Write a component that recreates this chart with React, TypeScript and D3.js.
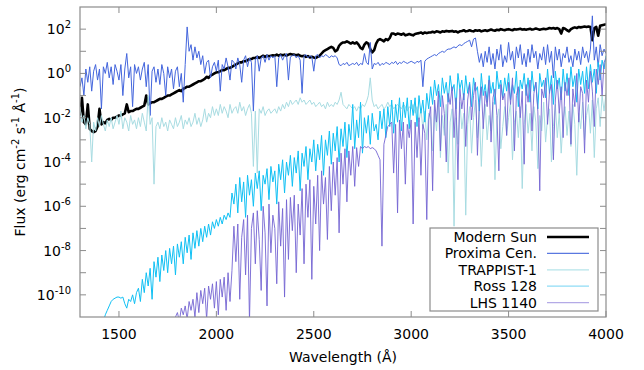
import React from "react";
import * as d3 from "d3";

// Wavelength grid (Å) shared by all spectra
const WAVE_START = 1300;
const WAVE_STEP = 10;
const X_DOMAIN = [1300, 4000];
const Y_DOMAIN = [1e-11, 1e3];
const X_TICKS = [1500, 2000, 2500, 3000, 3500, 4000];
const Y_MAJOR_EXP = [2, 0, -2, -4, -6, -8, -10];
const Y_MINOR_EXP = [1, -1, -3, -5, -7, -9];
const SERIES_NAMES = ["Modern Sun", "Proxima Cen.", "TRAPPIST-1", "Ross 128", "LHS 1140"];

// log10 flux values, one row per 100 Å
const SUN_LOG = [
  [-1.9, -1.1, -2.2, -2.3, -1.4, -2.5, -2.6, -2.65, -2.6, -2.4],
  [-1.6, -2.3, -2.2, -2.25, -2.1, -2.05, -2.1, -2.0, -2.0, -1.95],
  [-1.9, -1.9, -1.85, -1.8, -1.4, -1.75, -1.7, -1.7, -1.65, -1.6],
  [-1.6, -1.55, -1.5, -1.45, -1.0, -1.4, -1.35, -1.3, -1.3, -1.25],
  [-1.2, -1.15, -1.15, -1.1, -1.05, -1.0, -1.0, -0.95, -0.9, -0.85],
  [-0.8, -0.75, -0.8, -0.7, -0.65, -0.6, -0.6, -0.55, -0.5, -0.45],
  [-0.4, -0.35, -0.35, -0.3, -0.25, -0.15, -0.2, -0.1, -0.05, 0.0],
  [0.05, 0.05, 0.1, 0.15, 0.15, 0.2, 0.25, 0.25, 0.3, 0.35],
  [0.4, 0.45, 0.5, 0.5, 0.55, 0.55, 0.6, 0.65, 0.65, 0.7],
  [0.7, 0.75, 0.7, 0.75, 0.8, 0.75, 0.8, 0.78, 0.8, 0.82],
  [0.8, 0.85, 0.8, 0.85, 0.82, 0.85, 0.8, 0.85, 0.88, 0.85],
  [0.85, 0.82, 0.85, 0.8, 0.78, 0.8, 0.75, 0.78, 0.72, 0.75],
  [0.72, 0.7, 0.75, 0.8, 0.9, 1.0, 1.05, 1.1, 1.15, 1.2],
  [1.15, 1.0, 1.05, 1.25, 1.35, 1.4, 1.4, 1.45, 1.4, 1.35],
  [1.4, 1.35, 1.4, 1.3, 1.15, 1.1, 1.3, 1.4, 1.35, 1.1],
  [0.95, 1.05, 1.35, 1.5, 1.55, 1.5, 1.45, 1.55, 1.5, 1.6],
  [1.8, 1.8, 1.75, 1.8, 1.78, 1.75, 1.8, 1.72, 1.75, 1.78],
  [1.75, 1.72, 1.78, 1.8, 1.82, 1.85, 1.8, 1.85, 1.82, 1.85],
  [1.85, 1.88, 1.85, 1.9, 1.88, 1.85, 1.9, 1.88, 1.92, 1.9],
  [1.9, 1.92, 1.88, 1.9, 1.85, 1.9, 1.92, 1.95, 1.9, 1.92],
  [1.95, 1.92, 1.9, 1.95, 1.93, 1.95, 1.9, 1.93, 1.95, 1.92],
  [1.95, 1.98, 1.95, 1.93, 1.97, 1.95, 2.0, 1.97, 1.95, 1.98],
  [2.0, 1.97, 1.95, 2.0, 1.98, 2.0, 2.02, 1.98, 2.0, 1.97],
  [2.0, 2.02, 1.98, 2.0, 2.03, 2.0, 1.97, 2.0, 2.02, 2.0],
  [2.02, 2.05, 2.03, 2.05, 2.02, 2.05, 2.0, 1.8, 2.05, 2.02],
  [1.95, 1.9, 2.0, 2.05, 2.08, 2.05, 2.1, 2.08, 2.1, 2.12],
  [2.1, 2.12, 2.1, 1.5, 2.05, 2.1, 1.7, 2.15, 2.18, 2.2],
  [2.22],
].flat();

const PROXIMA_LOG = [
  [-0.6, -0.2, -1.0, 0.2, -0.4, 0.3, -0.8, 0.1, 0.4, -0.3],
  [0.2, -1.6, 0.3, 0.0, 0.5, -0.2, 0.3, -0.5, 0.4, 0.1],
  [-0.3, 0.4, -1.0, 0.2, 0.9, -0.2, 0.3, -1.5, 0.4, 0.0],
  [0.3, -0.3, 0.2, 0.5, -0.6, 0.4, -1.9, 0.1, 0.3, -0.4],
  [0.2, -0.5, 0.4, 0.0, -1.0, 0.3, -0.2, 0.2, -0.7, 0.1],
  [0.3, -0.6, 0.0, -1.3, 0.4, 2.1, 1.0, 1.3, 0.6, 1.2],
  [0.7, 1.0, 0.4, 0.8, 0.0, 0.5, 0.6, -0.2, 0.3, 0.5],
  [0.1, 0.6, -0.8, 0.4, 0.2, 0.7, 0.3, -0.3, 0.6, 0.5],
  [0.2, 0.7, 0.4, -0.4, 0.6, 0.8, 0.3, 0.7, 0.5, -1.7],
  [0.6, 0.8, 0.1, 0.7, 0.8, 0.5, 0.85, 0.6, 0.8, 0.7],
  [0.8, -0.6, 0.7, 0.85, 0.6, 0.8, 0.9, -0.3, 0.75, 0.8],
  [0.85, 0.7, 0.8, 0.6, -0.9, 0.8, 0.85, 0.7, 0.8, 0.75],
  [0.1, 0.8, 0.85, 0.7, 0.8, 0.75, 0.85, 0.8, 0.7, 0.8],
  [0.75, 0.8, 0.7, 0.4, 0.35, 0.45, 0.4, 0.5, 0.35, 0.4],
  [0.45, 0.4, 0.5, 0.35, 0.45, 0.4, 0.9, 0.5, 0.4, 1.4],
  [0.2, 0.45, 0.4, 0.5, 0.35, 0.45, 0.4, 0.5, 0.45, 0.4],
  [0.5, 0.45, 0.55, 0.4, 0.5, 0.45, 0.55, 0.5, 0.45, 0.5],
  [0.55, 0.5, 0.45, 0.55, 0.5, 0.6, -0.6, 0.55, 0.65, 0.7],
  [0.75, 0.8, 0.85, 0.8, 0.9, 0.95, 1.0, 0.95, 1.05, 1.1],
  [1.1, 1.15, 1.2, 1.15, 1.25, 1.3, 1.25, 1.35, 1.4, 1.45],
  [1.5, 1.2, 1.55, 1.6, 1.0, 0.5, 0.9, 0.3, 1.0, 0.5],
  [1.2, 0.4, 0.9, 0.2, 1.1, 0.6, 1.3, 0.3, 0.8, 0.5],
  [1.4, 0.6, 1.0, 0.2, 1.2, 0.7, 1.3, 0.4, 0.9, 0.3],
  [1.1, 0.5, 1.3, 0.7, 1.0, 0.2, 0.9, 0.6, 1.2, 0.4],
  [1.3, 0.5, 1.0, -0.2, 1.2, 0.6, 1.1, 0.3, 0.9, 0.7],
  [1.2, 0.5, 0.8, 0.3, 1.1, 0.6, 1.0, 0.4, 1.2, 0.7],
  [1.0, 0.5, 1.1, 2.6, 0.6, 1.2, 0.3, 1.3, 0.8, 1.1],
  [0.9],
].flat();

const TRAPPIST_LOG = [
  [-1.5, -2.2, -1.9, -2.5, -2.0, -2.3, -4.0, -2.2, -2.6, -2.0],
  [-2.4, -1.9, -2.3, -2.6, -2.1, -2.4, -2.0, -2.5, -2.2, -1.9],
  [-2.3, -1.7, -2.5, -2.0, -2.2, -2.6, -1.9, -2.3, -2.1, -2.5],
  [-2.0, -2.4, -1.8, -2.2, -2.6, -1.0, -2.3, -2.0, -5.0, -2.4],
  [-2.2, -2.5, -2.0, -2.4, -2.2, -2.6, -2.1, -2.3, -2.5, -2.0],
  [-2.4, -2.2, -1.9, -2.5, -2.1, -2.3, -2.0, -2.4, -2.2, -1.8],
  [-2.3, -2.0, -2.4, -2.1, -1.6, -2.2, -1.8, -2.0, -1.5, -1.9],
  [-1.6, -1.9, -1.4, -1.8, -1.5, -1.7, -2.0, -1.4, -1.8, -1.6],
  [-1.5, -1.8, -1.3, -1.7, -1.5, -1.9, -1.6, -1.4, -1.8, -4.2],
  [-1.7, -4.5, -1.6, -1.8, -1.5, -1.9, -1.7, -1.6, -1.8, -1.7],
  [-1.6, -1.8, -1.5, -1.7, -1.4, -1.6, -1.3, -1.5, -1.2, -1.4],
  [-1.3, -1.2, -1.4, -1.1, -1.3, -1.2, -1.4, -1.3, -1.2, -1.4],
  [-1.3, -1.5, -1.4, -1.3, -1.5, -1.4, -1.6, -1.3, -1.5, -1.4],
  [-1.5, -1.3, -1.4, -1.2, -0.85, -1.4, -1.5, -1.6, -1.4, -1.5],
  [-1.6, -1.5, -1.7, -1.5, -1.6, -1.4, -1.5, -1.3, -1.0, -0.2],
  [-1.2, -1.5, -1.4, -1.6, -1.5, -1.4, -1.6, -1.5, -1.3, -1.5],
  [-1.4, -1.6, -1.5, -1.4, -1.5, -1.6, -1.4, -1.5, -1.7, -1.5],
  [-1.6, -1.4, -1.8, -1.5, -2.2, -1.6, -2.5, -1.7, -3.0, -1.8],
  [-2.0, -3.5, -1.5, -2.6, -1.2, -3.8, -1.9, -2.8, -1.4, -4.5],
  [-2.2, -1.6, -6.9, -2.0, -3.2, -1.3, -2.5, -1.8, -6.4, -2.3],
  [-1.5, -3.6, -2.0, -1.2, -2.9, -1.7, -4.2, -2.2, -1.4, -3.0],
  [-1.9, -2.6, -1.3, -4.8, -2.1, -1.6, -3.4, -2.4, -1.5, -2.8],
  [-2.0, -1.3, -3.9, -2.2, -1.7, -2.9, -1.5, -5.2, -2.3, -1.4],
  [-2.7, -1.8, -3.5, -1.5, -2.2, -4.3, -1.9, -2.6, -1.3, -3.1],
  [-2.0, -1.6, -4.0, -2.4, -1.4, -2.9, -1.8, -3.6, -2.1, -1.5],
  [-2.8, -1.7, -3.3, -1.4, -2.3, -4.6, -1.8, -2.5, -1.3, -3.0],
  [-1.9, -1.4, -2.7, -1.2, -3.8, -1.6, -1.1, -2.4, -1.0, -1.7],
  [-0.9],
].flat();

const ROSS_LOG = [
  [null, null, null, null, null, null, null, null, null, null],
  [null, null, -11.2, -10.9, -10.7, -10.5, -10.3, -10.2, -10.15, -10.1],
  [-10.1, -10.15, -10.1, -10.4, -10.6, -10.2, -10.3, -10.0, -10.4, -9.9],
  [-9.7, -10.3, -9.3, -9.9, -9.0, -9.6, -8.8, -10.2, -8.5, -9.2],
  [-8.3, -9.4, -8.2, -8.9, -8.0, -9.0, -7.9, -8.6, -7.8, -9.1],
  [-7.7, -8.3, -7.6, -8.6, -7.4, -8.1, -7.3, -8.4, -7.2, -7.9],
  [-7.1, -7.8, -7.0, -7.6, -6.9, -7.4, -6.8, -7.3, -6.7, -7.0],
  [-6.6, -6.9, -6.5, -6.8, -6.4, -6.6, -6.3, -6.5, -5.4, -5.9],
  [-5.0, -6.3, -4.7, -5.8, -4.9, -6.5, -4.6, -5.5, -4.8, -6.0],
  [-4.5, -5.2, -4.4, -6.2, -4.6, -5.0, -4.3, -5.7, -4.2, -4.9],
  [-4.4, -5.9, -4.1, -4.8, -3.9, -5.4, -4.0, -4.6, -3.7, -5.1],
  [-3.8, -4.5, -3.5, -5.3, -3.6, -4.2, -3.3, -4.8, -3.4, -4.0],
  [-3.0, -4.4, -3.2, -3.9, -2.8, -4.6, -3.0, -3.7, -2.6, -4.1],
  [-2.7, -3.5, -2.4, -4.0, -2.5, -3.3, -2.2, -3.8, -2.3, -3.0],
  [-1.4, -3.4, -2.1, -2.9, -1.3, -3.6, -2.0, -2.7, -1.9, -3.2],
  [-1.8, -2.6, -2.3, -3.0, -1.7, -2.5, -1.6, -2.9, -1.5, -2.4],
  [-1.2, -2.7, -1.4, -2.2, -1.1, -2.6, -1.3, -2.0, -1.1, -2.5],
  [-1.2, -1.9, -1.1, -2.4, -1.0, -1.8, -1.2, -2.2, -0.9, -1.6],
  [-0.6, -1.4, -0.3, -1.0, -0.5, -1.5, -0.2, -0.9, -0.4, -1.3],
  [-0.1, -0.8, -0.5, -1.6, 0.0, -0.7, -0.3, -1.2, -0.1, -0.9],
  [-0.4, -1.5, -0.2, -0.8, -0.6, -1.7, 0.0, -1.0, -0.5, -1.3],
  [-0.1, -0.9, -0.4, -1.4, 0.1, -0.7, -0.3, -1.1, -0.2, -0.8],
  [0.0, -1.2, -0.5, -0.9, 0.1, -1.5, -0.3, -0.7, 0.0, -1.0],
  [-0.2, -1.3, 0.1, -0.8, -0.4, -1.6, 0.0, -0.6, -0.3, -1.1],
  [0.2, -0.9, -0.1, -1.4, 0.1, -0.7, -0.2, -1.2, 0.2, -0.8],
  [0.0, -1.0, 0.3, -0.6, -0.1, -1.3, 0.2, -0.5, 0.1, -0.9],
  [0.3, -0.7, 0.4, -0.4, 0.2, -0.9, 0.5, -0.3, 0.6, 0.2],
  [0.8],
].flat();

const LHS_LOG = [
  [null, null, null, null, null, null, null, null, null, null],
  [null, null, null, null, null, null, null, null, null, null],
  [null, null, null, null, null, null, null, null, null, null],
  [null, null, null, null, null, null, null, null, null, null],
  [null, null, null, null, null, null, null, null, -11.2, -11.0],
  [-10.8, -11.2, -10.6, -10.9, -10.5, -11.1, -10.3, -10.7, -10.2, -11.0],
  [-9.9, -10.8, -9.8, -10.4, -9.7, -11.1, -9.6, -10.2, -9.5, -10.6],
  [-9.4, -10.9, -9.3, -10.1, -9.2, -10.7, -9.0, -10.3, -8.9, -6.9],
  [-8.5, -6.8, -10.2, -7.4, -6.6, -9.1, -6.4, -11.2, -7.0, -6.3],
  [-8.6, -6.2, -7.5, -9.8, -6.0, -7.2, -10.5, -5.9, -8.1, -6.4],
  [-7.0, -9.5, -5.8, -7.8, -6.1, -10.1, -5.7, -8.4, -5.6, -7.1],
  [-5.5, -9.0, -5.9, -7.3, -5.2, -8.6, -5.0, -6.5, -4.8, -9.3],
  [-5.1, -6.8, -4.6, -8.0, -4.4, -5.9, -4.7, -7.5, -4.2, -6.2],
  [-4.0, -5.5, -3.8, -7.2, -3.6, -5.0, -3.4, -5.8, -3.5, -4.6],
  [-3.3, -5.1, -3.35, -4.2, -3.3, -3.4, -3.3, -3.35, -3.3, -3.4],
  [-3.35, -3.4, -3.5, -3.7, -3.9, -7.8, -3.2, -2.8, -2.4, -2.3],
  [-2.2, -4.5, -2.3, -6.3, -2.1, -3.4, -2.2, -5.0, -2.3, -2.9],
  [-2.1, -6.8, -2.2, -3.8, -2.0, -4.6, -2.3, -2.7, -6.6, -2.1],
  [-1.5, -5.3, -1.2, -2.2, -0.8, -3.5, -1.0, -1.8, -4.0, -0.9],
  [-1.4, -0.6, -2.9, -1.1, -4.8, -0.7, -1.6, -0.9, -3.3, -1.2],
  [-0.5, -2.1, -1.0, -0.4, -3.7, -1.3, -0.6, -2.5, -0.8, -1.5],
  [-0.3, -3.1, -1.1, -0.7, -1.9, -4.4, -0.5, -1.2, -0.9, -2.8],
  [-0.4, -1.4, -0.2, -3.5, -1.0, -0.6, -2.0, -0.8, -4.1, -0.5],
  [-1.3, -0.3, -2.6, -0.9, -0.4, -1.7, -5.3, -0.7, -1.1, -0.2],
  [-2.3, -0.8, -0.5, -3.9, -1.2, -0.3, -1.8, -0.6, -2.9, -0.4],
  [-1.0, -0.2, -3.2, -0.7, -1.5, 0.0, -2.2, -0.6, -0.9, -3.6],
  [-0.3, -1.3, 0.1, -0.8, -2.4, 0.2, -0.5, 0.4, -1.0, 0.5],
  [0.7],
].flat();

const SERIES = [
  { name: SERIES_NAMES[0], values: SUN_LOG, color: "#000000", width: 2.6, legendColor: "#000000" },
  { name: SERIES_NAMES[1], values: PROXIMA_LOG, color: "#4466dd", width: 1, legendColor: "#5a78e0" },
  { name: SERIES_NAMES[2], values: TRAPPIST_LOG, color: "#a8dce2", width: 1, legendColor: "#b6e4ea" },
  { name: SERIES_NAMES[3], values: ROSS_LOG, color: "#10c0f4", width: 1, legendColor: "#8fdcf6" },
  { name: SERIES_NAMES[4], values: LHS_LOG, color: "#7464d2", width: 0.9, legendColor: "#b4aae6" },
];

const FONT = "DejaVu Sans, Verdana, sans-serif";

export default function App() {
  const W = 644;
  const H = 370;
  const L = 80, R = 606, T = 7, B = 317;
  const x = d3.scaleLinear().domain(X_DOMAIN).range([L, R]);
  const y = d3.scaleLog().domain(Y_DOMAIN).range([B, T]);
  const line = d3
    .line<number | null>()
    .defined((d) => d !== null)
    .x((_, i) => x(WAVE_START + i * WAVE_STEP))
    .y((d) => y(Math.pow(10, d as number)));

  const axisColor = "#8c8c8c";
  const tickLen = 6;

  return (
    <svg
      width={W}
      height={H}
      style={{ position: "absolute", left: 0, top: 0, background: "#fff" }}
      fontFamily={FONT}
    >
      <defs>
        <clipPath id="plotClip">
          <rect x={L} y={T} width={R - L} height={B - T} />
        </clipPath>
      </defs>
      <rect x={0} y={0} width={W} height={H} fill="#fff" />
      <g clipPath="url(#plotClip)">
        {SERIES.map((s) => (
          <path
            key={s.name}
            d={line(s.values) || ""}
            fill="none"
            stroke={s.color}
            strokeWidth={s.width}
            strokeLinejoin="round"
          />
        ))}
      </g>
      {/* frame */}
      <rect x={L} y={T} width={R - L} height={B - T} fill="none" stroke={axisColor} strokeWidth={1.2} />
      {/* x ticks */}
      {X_TICKS.map((t) => (
        <g key={"xt" + t}>
          <line x1={x(t)} x2={x(t)} y1={B} y2={B - tickLen} stroke={axisColor} />
          <line x1={x(t)} x2={x(t)} y1={T} y2={T + tickLen} stroke={axisColor} />
          <text x={x(t)} y={339} textAnchor="middle" fontSize={14} fill="#000">
            {t}
          </text>
        </g>
      ))}
      {/* y ticks */}
      {[...Y_MAJOR_EXP, ...Y_MINOR_EXP].map((e) => (
        <g key={"yt" + e}>
          <line x1={L} x2={L + tickLen} y1={y(Math.pow(10, e))} y2={y(Math.pow(10, e))} stroke={axisColor} />
          <line x1={R} x2={R - tickLen} y1={y(Math.pow(10, e))} y2={y(Math.pow(10, e))} stroke={axisColor} />
        </g>
      ))}
      {Y_MAJOR_EXP.map((e) => (
        <text key={"yl" + e} x={71} y={y(Math.pow(10, e)) + 5} textAnchor="end" fontSize={14} fill="#000">
          10
          <tspan dy={-6} fontSize={10}>{e}</tspan>
        </text>
      ))}
      {/* axis titles */}
      <text x={343} y={362} textAnchor="middle" fontSize={14} fill="#000">
        Wavelength (Å)
      </text>
      <text
        transform={`translate(25, ${(T + B) / 2}) rotate(-90)`}
        textAnchor="middle"
        fontSize={14}
        fill="#000"
      >
        Flux (erg cm<tspan dy={-6} fontSize={10}>-2</tspan>
        <tspan dy={6}> s</tspan>
        <tspan dy={-6} fontSize={10}>-1</tspan>
        <tspan dy={6}> Å</tspan>
        <tspan dy={-6} fontSize={10}>-1</tspan>
        <tspan dy={6}>)</tspan>
      </text>
      {/* legend */}
      <rect x={430} y={228} width={168} height={83} fill="#fff" stroke={axisColor} strokeWidth={1.2} />
      {SERIES.map((s, i) => {
        const cy = 237 + i * 16.4;
        return (
          <g key={"lg" + s.name}>
            <text x={537} y={cy + 5} textAnchor="end" fontSize={14} fill="#000">
              {s.name}
            </text>
            <line x1={547} x2={589} y1={cy} y2={cy} stroke={s.legendColor} strokeWidth={s.width === 2.6 ? 2.6 : 1.2} />
          </g>
        );
      })}
    </svg>
  );
}
